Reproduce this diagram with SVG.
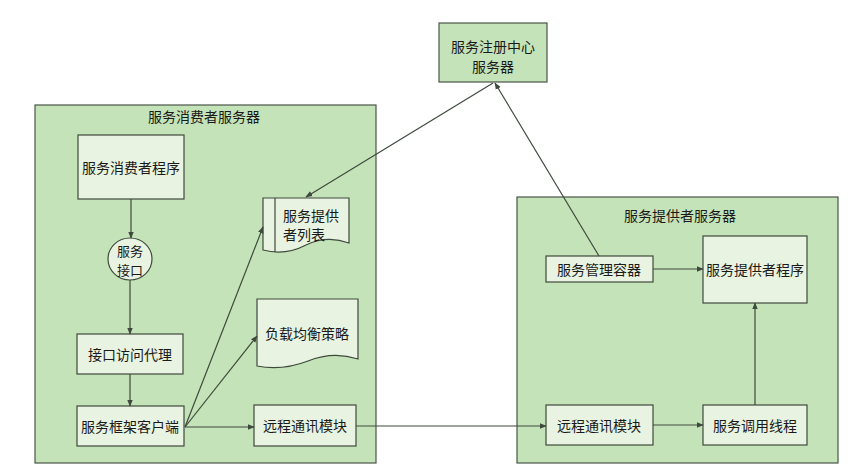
<svg xmlns="http://www.w3.org/2000/svg" width="857" height="470" viewBox="0 0 857 470">
<defs>
<style>
.container{fill:#c5e3b8;stroke:#4a5548;stroke-width:1.2}
.box{fill:#e8f3e1;stroke:#3e4a3d;stroke-width:1.2}
.t{font-family:"Noto Sans CJK SC","Liberation Sans",sans-serif;font-size:14px;fill:#1a1a1a;text-anchor:middle;dominant-baseline:central}
.tl{text-anchor:start}
.small{font-size:13px}
.edge{fill:none;stroke:#3e4a3d;stroke-width:1.2;marker-end:url(#arr)}
</style>
<marker id="arr" viewBox="0 0 10 10" refX="9" refY="5" markerWidth="7" markerHeight="7" markerUnits="userSpaceOnUse" orient="auto"><path d="M0,1 L10,5 L0,9 Z" fill="#3e4a3d"/></marker>
</defs>
<rect width="857" height="470" fill="#ffffff"/>

<g id="registry">
<rect class="container" x="439" y="23" width="108" height="59"/>
<text class="t" x="493" y="46">服务注册中心</text>
<text class="t" x="493" y="66">服务器</text>
</g>

<g id="consumer-server">
<rect class="container" x="35" y="105" width="341" height="358"/>
<text class="t" x="204" y="116">服务消费者服务器</text>
</g>

<g id="provider-server">
<rect class="container" x="517" y="197" width="321" height="266"/>
<text class="t" x="680" y="215">服务提供者服务器</text>
</g>

<g id="consumer-program">
<rect class="box" x="78" y="135" width="106" height="64"/>
<text class="t" x="131" y="167">服务消费者程序</text>
</g>

<g id="service-interface">
<ellipse class="box" cx="130" cy="259" rx="22" ry="21"/>
<text class="t small" x="130" y="250">服务</text>
<text class="t small" x="130" y="269">接口</text>
</g>

<g id="interface-proxy">
<rect class="box" x="77" y="334" width="106" height="40"/>
<text class="t" x="130" y="354">接口访问代理</text>
</g>

<g id="framework-client">
<rect class="box" x="77" y="406" width="107" height="40"/>
<text class="t" x="130" y="426">服务框架客户端</text>
</g>

<g id="provider-list">
<path class="box" d="M263,198 H349 V243 Q327,235 306,245 Q285,256 263,250 Z"/>
<line x1="275" y1="198" x2="275" y2="252" stroke="#3e4a3d" stroke-width="1.2"/>
<text class="t tl" x="283" y="215">服务提供</text>
<text class="t tl" x="283" y="234">者列表</text>
</g>

<g id="load-balance">
<path class="box" d="M257,299 H358 V359 Q333,351 308,361 Q282,371 257,366 Z"/>
<text class="t" x="307" y="333">负载均衡策略</text>
</g>

<g id="consumer-remote">
<rect class="box" x="254" y="405" width="102" height="41"/>
<text class="t" x="305" y="425">远程通讯模块</text>
</g>

<g id="service-manager">
<rect class="box" x="546" y="256" width="107" height="26"/>
<text class="t" x="599" y="269">服务管理容器</text>
</g>

<g id="provider-program">
<rect class="box" x="703" y="236" width="104" height="67"/>
<text class="t" x="755" y="269">服务提供者程序</text>
</g>

<g id="provider-remote">
<rect class="box" x="546" y="405" width="107" height="40"/>
<text class="t" x="599" y="425">远程通讯模块</text>
</g>

<g id="invoke-thread">
<rect class="box" x="703" y="405" width="104" height="40"/>
<text class="t" x="755" y="425">服务调用线程</text>
</g>

<g id="connectors">
<line class="edge" x1="131" y1="199" x2="131" y2="238"/>
<line class="edge" x1="130" y1="280" x2="130" y2="334"/>
<line class="edge" x1="130" y1="374" x2="130" y2="406"/>
<line class="edge" x1="185" y1="427" x2="263" y2="227"/>
<line class="edge" x1="185" y1="427" x2="257" y2="336"/>
<line class="edge" x1="185" y1="427" x2="254" y2="427"/>
<line class="edge" x1="493" y1="83" x2="306" y2="197"/>
<line class="edge" x1="599" y1="256" x2="495" y2="83"/>
<line class="edge" x1="356" y1="426" x2="546" y2="426"/>
<line class="edge" x1="653" y1="269" x2="703" y2="269"/>
<line class="edge" x1="653" y1="425" x2="703" y2="425"/>
<line class="edge" x1="755" y1="405" x2="755" y2="303"/>
</g>
</svg>
